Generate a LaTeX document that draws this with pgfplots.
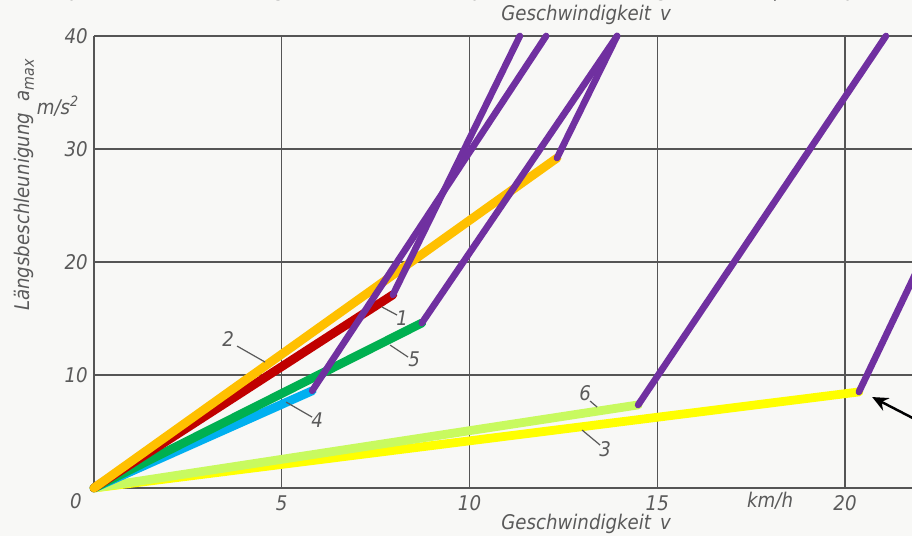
\documentclass[border=0pt]{standalone}
\usepackage{pgfplots}
\pgfplotsset{compat=1.18}
\usetikzlibrary{arrows.meta}
\usepackage{fontspec}
\setmainfont{DejaVu Sans Condensed}
\definecolor{bg}{RGB}{248,248,246}
\definecolor{gridc}{RGB}{85,85,85}
\definecolor{txt}{RGB}{90,90,90}
\definecolor{cOrange}{RGB}{255,192,0}
\definecolor{cRed}{RGB}{192,0,0}
\definecolor{cGreen}{RGB}{0,176,80}
\definecolor{cBlue}{RGB}{0,176,240}
\definecolor{cLight}{RGB}{200,250,95}
\definecolor{cYellow}{RGB}{255,255,0}
\definecolor{cPurple}{RGB}{112,48,160}
\begin{document}
\begin{tikzpicture}
\path[use as bounding box, fill=bg] (-1.88,-0.96) rectangle (16.36,9.76);
\begin{axis}[at={(0,0)}, anchor=south west,
  x=0.751cm, y=0.226cm,
  xmin=0, xmax=21.78, ymin=0, ymax=40,
  axis x line=bottom, axis y line=left,
  axis line style={-, line width=1.1pt, color=gridc},
  grid=major, grid style={line width=0.8pt, color=gridc},
  xtick={5,10,15,20}, xticklabels={5,10,15,20},
  ytick={10,20,30,40}, yticklabels={10,20,30,\raisebox{-4.5pt}{40}},
  major tick length=0pt,
  tick label style={font=\fontsize{11.5}{13}\selectfont\itshape, text=txt},
  xticklabel style={yshift=-1pt},
  /pgf/number format/assume math mode=true,
  clip=false]
% colored lines from origin
\addplot[cYellow, line width=5pt, line cap=round] coordinates {(0,0) (20.37,8.5)};
\addplot[cLight, line width=5pt, line cap=round] coordinates {(0,0) (14.49,7.35)};
\addplot[cBlue, line width=5pt, line cap=round] coordinates {(0,0) (5.81,8.6)};
\addplot[cGreen, line width=5pt, line cap=round] coordinates {(0,0) (8.73,14.6)};
\addplot[cRed, line width=5pt, line cap=round] coordinates {(0,0) (7.96,17.1)};
\addplot[cOrange, line width=5pt, line cap=round] coordinates {(0,0) (12.33,29.2)};
% purple branches
\addplot[cPurple, line width=3.8pt, line cap=round] coordinates {(5.81,8.6) (12.04,40)};
\addplot[cPurple, line width=3.8pt, line cap=round] coordinates {(7.96,17.1) (11.34,40)};
\addplot[cPurple, line width=3.8pt, line cap=round] coordinates {(8.73,14.6) (13.93,40)};
\addplot[cPurple, line width=3.8pt, line cap=round] coordinates {(12.33,29.2) (13.93,40)};
\addplot[cPurple, line width=3.8pt, line cap=round] coordinates {(14.49,7.35) (21.09,40)};
\addplot[cPurple, line width=3.8pt, line cap=round] coordinates {(20.37,8.5) (24.9,40)};
\end{axis}
\begin{scope}[x=0.02cm, y=-0.02cm, shift={(-1.88cm,9.76cm)}, every node/.style={font=\fontsize{11.5}{13}\selectfont\itshape, text=txt}]
  % leader lines
  \draw[txt, line width=0.7pt] (382,307) -- (397,315);
  \draw[txt, line width=0.7pt] (237,346) -- (265,362);
  \draw[txt, line width=0.7pt] (390,345) -- (408,357);
  \draw[txt, line width=0.7pt] (286,402) -- (312,417);
  \draw[txt, line width=0.7pt] (590,401) -- (597,407);
  \draw[txt, line width=0.7pt] (582,430) -- (600,445);
  \node at (402,318) {1};
  \node at (228,339) {2};
  \node at (414,359) {5};
  \node at (317,420) {4};
  \node at (585,393) {6};
  \node at (605,449) {3};
  % arrow
  \draw[black, line width=1.4pt, -{Stealth[length=9pt, width=8pt]}] (930,427) -- (872,397);
  % axis texts
  \node at (76,501) {0};
  \node at (770,501) {km/h};
  \node[inner sep=1pt] at (586,524) {Geschwindigkeit\, v};
  \node at (586,15) {Geschwindigkeit\, v};
  \node[rotate=90] at (24,185) {Längsbeschleunigung\; a\raisebox{-0.4ex}{\fontsize{9}{10}\selectfont max}};
  \node at (58,106) {m/s\textsuperscript{2}};
  % cut-off labels of the chart above
  \node at (73,-7) {0};
  \node at (280,-7) {5};
  \node at (470,-7) {10};
  \node at (657,-7) {15};
  \node at (770,-7) {km/h};
  \node at (843,-7) {20};
\end{scope}
\end{tikzpicture}
\end{document}
